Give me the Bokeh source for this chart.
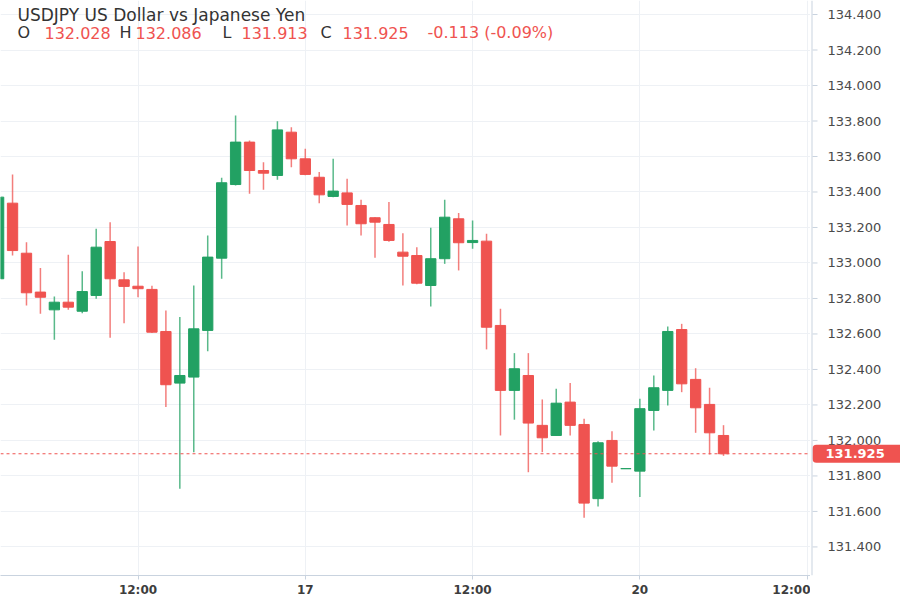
from bokeh.plotting import figure
from bokeh.layouts import row
from bokeh.core.properties import value
from bokeh.models import (ColumnDataSource, FixedTicker, Label, Span, Range1d)
from bokeh.embed import file_html
from bokeh.resources import INLINE

# ---- data (hourly USDJPY candles) ----
opens = [132.911, 133.337, 133.055, 132.836, 132.736, 132.779, 132.728, 132.817, 133.121, 132.905,
         132.869, 132.851, 132.614, 132.323, 132.357, 132.620, 133.027, 133.442, 133.681, 133.521,
         133.493, 133.737, 133.587, 133.483, 133.375, 133.395, 133.324, 133.255, 133.217, 133.061,
         133.042, 132.873, 133.024, 133.249, 133.115, 133.123, 132.648, 132.282, 132.366, 132.085,
         132.028, 132.216, 132.090, 131.672, 132.000, 131.841, 131.827, 132.169, 132.282, 132.625,
         132.344, 132.203, 132.028]
highs = [133.380, 133.499, 133.117, 132.971, 132.811, 133.046, 132.954, 133.193, 133.230, 132.948,
         133.093, 132.871, 132.732, 132.695, 132.873, 133.155, 133.480, 133.831, 133.690, 133.568,
         133.799, 133.765, 133.643, 133.512, 133.587, 133.474, 133.356, 133.258, 133.343, 133.168,
         133.089, 133.198, 133.356, 133.281, 133.239, 133.164, 132.742, 132.492, 132.492, 132.231,
         132.291, 132.323, 132.122, 131.996, 132.052, 131.841, 132.235, 132.366, 132.642, 132.657,
         132.407, 132.297, 132.086]
lows = [132.890, 133.042, 132.761, 132.714, 132.567, 132.736, 132.717, 132.798, 132.579, 132.661,
        132.807, 132.605, 132.188, 131.728, 131.934, 132.503, 132.911, 133.437, 133.390, 133.412,
        133.469, 133.540, 133.495, 133.337, 133.371, 133.211, 133.155, 133.029, 133.120, 132.873,
        132.880, 132.755, 132.995, 132.958, 133.080, 132.513, 132.028, 132.117, 131.821, 131.934,
        132.025, 132.028, 131.565, 131.628, 131.762, 131.841, 131.681, 132.056, 132.197, 132.272,
        132.043, 131.921, 131.913]
closes = [133.371, 133.070, 132.832, 132.807, 132.779, 132.751, 132.839, 133.089, 132.911, 132.868,
          132.855, 132.610, 132.314, 132.366, 132.629, 133.033, 133.452, 133.681, 133.521, 133.506,
          133.750, 133.587, 133.499, 133.384, 133.405, 133.330, 133.221, 133.230, 133.127, 133.038,
          132.886, 133.024, 133.258, 133.114, 133.127, 132.638, 132.282, 132.404, 132.098, 132.015,
          132.210, 132.085, 131.647, 131.987, 131.855, 131.841, 132.179, 132.297, 132.614, 132.319,
          132.184, 132.043, 131.925]

price_ticks = [131.4, 131.6, 131.8, 132.0, 132.2, 132.4, 132.6, 132.8, 133.0, 133.2,
               133.4, 133.6, 133.8, 134.0, 134.2, 134.4]
time_ticks = [10, 22, 34, 46, 58]
time_labels = ["12:00", "17", "12:00", "20", "12:00"]

last_price = 131.925
header_title = "USDJPY US Dollar vs Japanese Yen"
header_parts = [("O", 17, "dark"), ("132.028", 44, "red"), ("H", 119, "dark"), ("132.086", 135, "red"),
                ("L", 222, "dark"), ("131.913", 241, "red"), ("C", 320, "dark"), ("131.925", 342, "red"),
                ("-0.113 (-0.09%)", 427, "red")]

GREEN = "#22a163"
RED = "#ef5350"
DARK = "#333333"
AXIS = "#c9d3df"
GRID = "#eef1f5"
FONT = "DejaVu Sans"

idx = list(range(len(opens)))
colors = [GREEN if c >= o else RED for o, c in zip(opens, closes)]
src = ColumnDataSource(dict(
    x=idx, o=opens, h=highs, l=lows, c=closes,
    top=[max(o, c) for o, c in zip(opens, closes)],
    bottom=[min(o, c) for o, c in zip(opens, closes)],
    color=colors,
))

H = 600
FRAME_H = 575
MAIN_W = 810
SIDE_W = 90

yr = Range1d(131.239, 134.479)

# ---------------- main chart ----------------
p = figure(width=MAIN_W, height=H, output_backend="svg", toolbar_location=None,
           x_range=Range1d(0.136, 58.24), y_range=yr, y_axis_location=None,
           min_border_left=0, min_border_top=0, min_border_right=0, min_border_bottom=H - FRAME_H,
           background_fill_color="white", border_fill_color="white")
p.outline_line_color = None

p.ygrid.ticker = FixedTicker(ticks=price_ticks)
p.ygrid.grid_line_color = GRID
p.xgrid.grid_line_color = GRID

xa = p.xaxis[0]
xa.ticker = FixedTicker(ticks=time_ticks)
xa.major_label_overrides = {t: lab for t, lab in zip(time_ticks, time_labels)}
xa.axis_line_color = AXIS
xa.major_tick_line_color = AXIS
xa.major_tick_out = 4
xa.major_tick_in = 0
xa.minor_tick_line_color = None
xa.major_label_standoff = 3
xa.major_label_text_font = FONT
xa.major_label_text_font_size = "12px"
xa.major_label_text_font_style = "bold"
xa.major_label_text_color = "#3d3d3d"

# candles
p.segment(x0="x", y0="h", x1="x", y1="l", line_color="color", line_alpha=0.75, line_width=1.5, source=src)
p.vbar(x="x", width=0.74, top="top", bottom="bottom", fill_color="color", line_color="color",
       line_width=1, source=src)

# last price line
p.add_layout(Span(location=last_price, dimension="width", line_color=RED, line_dash="3 3", line_width=1))

# header (screen y measured from the frame bottom)
p.add_layout(Label(x=17, y=FRAME_H - 14, x_units="screen", y_units="screen", text=header_title,
                   text_align="left", text_baseline="middle", text_font=FONT, text_font_size="17px",
                   text_color=DARK))
for txt, xx, kind in header_parts:
    p.add_layout(Label(x=xx, y=FRAME_H - 32, x_units="screen", y_units="screen", text=txt,
                       text_align="left", text_baseline="middle", text_font=FONT, text_font_size="16px",
                       text_color=DARK if kind == "dark" else RED))

# ---------------- price scale (right) ----------------
s = figure(width=SIDE_W, height=H, output_backend="svg", toolbar_location=None,
           x_range=Range1d(0, SIDE_W), y_range=yr, x_axis_location=None, y_axis_location=None,
           min_border_left=0, min_border_top=0, min_border_right=0, min_border_bottom=H - FRAME_H,
           background_fill_color="white", border_fill_color="white")
s.outline_line_color = None
s.xgrid.visible = False
s.ygrid.visible = False
s.add_layout(Span(location=1.5, dimension="height", line_color=AXIS, line_width=1))
n = len(price_ticks)
s.segment(x0=[2] * n, x1=[7] * n, y0=price_ticks, y1=price_ticks, line_color=AXIS, line_width=1)
s.text(x=[17] * n, y=price_ticks, text=[f"{t:.3f}" for t in price_ticks], text_align="left",
       text_baseline="middle", text_font=value(FONT), text_font_size=value("13px"),
       text_color="#4a4a4a")

# price tag
try:
    s.rect(x=[50], y=[last_price], width=96, height=18, height_units="screen",
           fill_color=RED, line_color=None, border_radius=4)
except Exception:
    s.rect(x=[50], y=[last_price], width=96, height=18, height_units="screen",
           fill_color=RED, line_color=None)
s.text(x=[15], y=[last_price], text=[f"{last_price:.3f}"], text_align="left", text_baseline="middle",
       text_font=value(FONT), text_font_size=value("13px"), text_font_style=value("bold"),
       text_color="white")

layout = row(p, s, spacing=0)
open("out.html", "w").write(file_html(layout, INLINE))
